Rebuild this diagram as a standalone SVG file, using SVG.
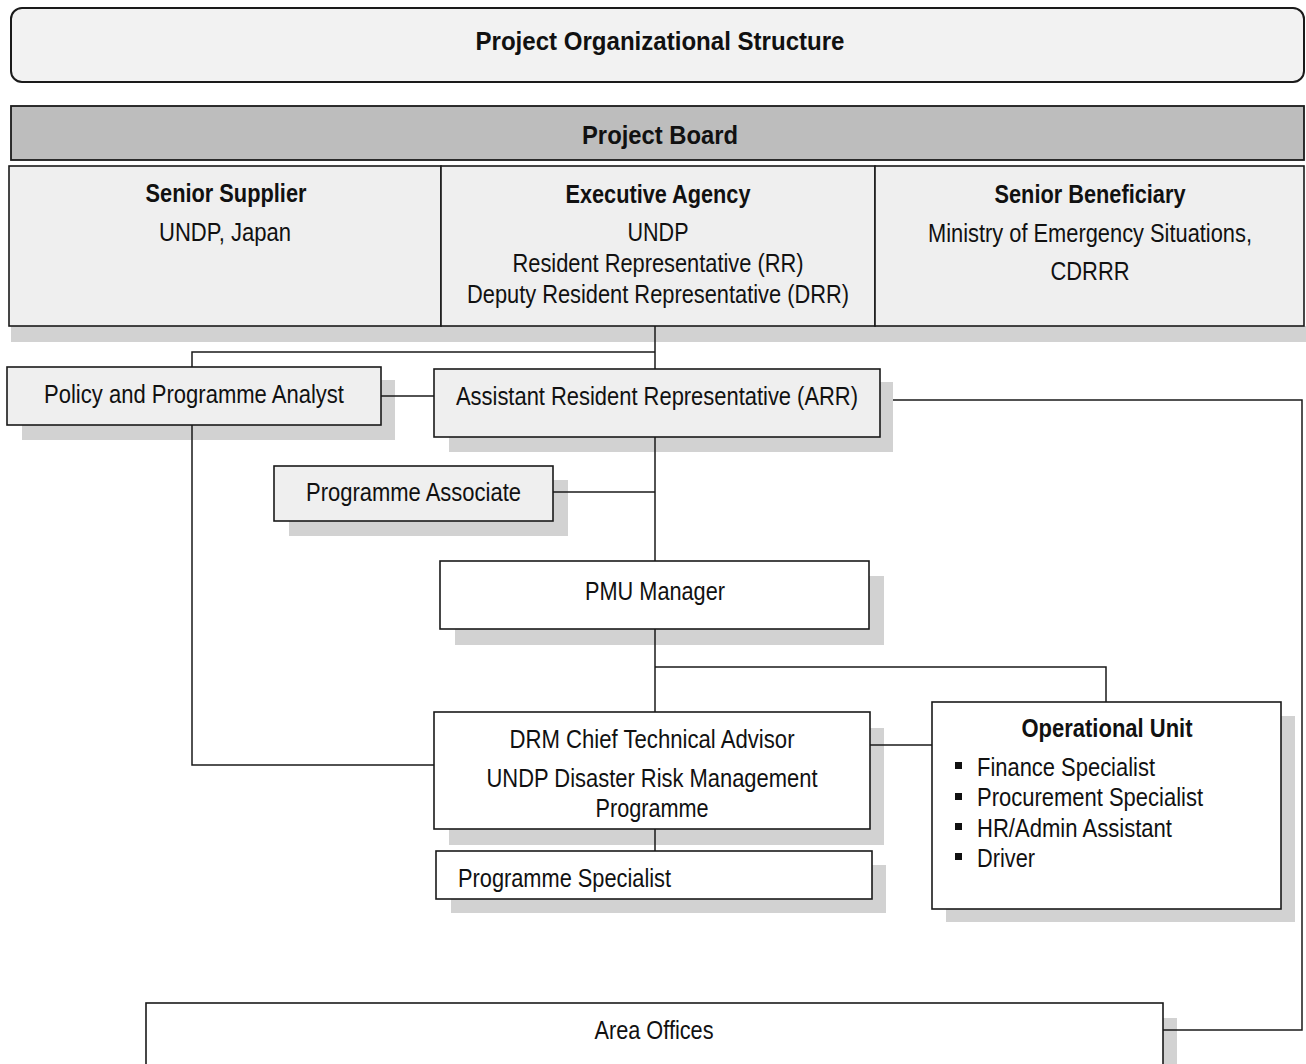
<svg xmlns="http://www.w3.org/2000/svg" width="1306" height="1064" viewBox="0 0 1306 1064">
<style>
.t{font-family:"Liberation Sans",Arial,sans-serif;font-size:25px;fill:#111;}
.b{font-weight:bold;}
.box{fill:#efefef;stroke:#1a1a1a;stroke-width:1.6;}
.wbox{fill:#ffffff;stroke:#1a1a1a;stroke-width:1.6;}
.sh{fill:#d2d2d2;}
.ln{fill:none;stroke:#1a1a1a;stroke-width:1.5;}
</style>
<rect width="1306" height="1064" fill="#ffffff"/>
<g id="shadows">
<rect class="sh" x="11" y="326" width="1295" height="16"/>
<rect class="sh" x="22" y="380" width="373" height="60"/>
<rect class="sh" x="449" y="382" width="444" height="70"/>
<rect class="sh" x="289" y="480" width="279" height="56"/>
<rect class="sh" x="455" y="576" width="429" height="69"/>
<rect class="sh" x="449" y="728" width="435" height="117"/>
<rect class="sh" x="451" y="865" width="435" height="48"/>
<rect class="sh" x="946" y="716" width="349" height="206"/>
<rect class="sh" x="160" y="1018" width="1017" height="46"/>
</g>
<g id="connectors">
<path class="ln" d="M655 326 V712"/>
<path class="ln" d="M655 352 H192 V765 H434"/>
<path class="ln" d="M381 396 H434"/>
<path class="ln" d="M893 400 H1302 V1030 H1163"/>
<path class="ln" d="M553 492 H655"/>
<path class="ln" d="M655 667 H1106 V702"/>
<path class="ln" d="M870 745 H932"/>
<path class="ln" d="M655 829 V851"/>
</g>
<g id="title">
<rect x="11" y="8" width="1293" height="74" rx="11" fill="#f2f2f2" stroke="#1a1a1a" stroke-width="2"/>
<text class="t b" x="660" y="50" text-anchor="middle" font-size="27" textLength="369" lengthAdjust="spacingAndGlyphs">Project Organizational Structure</text>
</g>
<g id="project-board">
<rect x="11" y="106" width="1293" height="54" fill="#bdbdbd" stroke="#1a1a1a" stroke-width="1.8"/>
<text class="t b" x="660" y="144" text-anchor="middle" font-size="27" textLength="156" lengthAdjust="spacingAndGlyphs">Project Board</text>
</g>
<g id="senior-supplier">
<rect class="box" x="9" y="166" width="432" height="160"/>
<text class="t b" x="226" y="202" text-anchor="middle" textLength="161" lengthAdjust="spacingAndGlyphs">Senior Supplier</text>
<text class="t" x="225" y="241" text-anchor="middle" textLength="132" lengthAdjust="spacingAndGlyphs">UNDP, Japan</text>
</g>
<g id="executive-agency">
<rect class="box" x="441" y="166" width="434" height="160"/>
<text class="t b" x="658" y="203" text-anchor="middle" textLength="185" lengthAdjust="spacingAndGlyphs">Executive Agency</text>
<text class="t" x="658" y="241" text-anchor="middle" textLength="61" lengthAdjust="spacingAndGlyphs">UNDP</text>
<text class="t" x="658" y="272" text-anchor="middle" textLength="291" lengthAdjust="spacingAndGlyphs">Resident Representative (RR)</text>
<text class="t" x="658" y="303" text-anchor="middle" textLength="382" lengthAdjust="spacingAndGlyphs">Deputy Resident Representative (DRR)</text>
</g>
<g id="senior-beneficiary">
<rect class="box" x="875" y="166" width="429" height="160"/>
<text class="t b" x="1090" y="203" text-anchor="middle" textLength="191" lengthAdjust="spacingAndGlyphs">Senior Beneficiary</text>
<text class="t" x="1090" y="242" text-anchor="middle" textLength="324" lengthAdjust="spacingAndGlyphs">Ministry of Emergency Situations,</text>
<text class="t" x="1090" y="280" text-anchor="middle" textLength="79" lengthAdjust="spacingAndGlyphs">CDRRR</text>
</g>
<g id="policy-analyst">
<rect class="box" x="7" y="367" width="374" height="58"/>
<text class="t" x="194" y="403" text-anchor="middle" textLength="300" lengthAdjust="spacingAndGlyphs">Policy and Programme Analyst</text>
</g>
<g id="arr">
<rect class="box" x="434" y="369" width="446" height="68"/>
<text class="t" x="456" y="405" textLength="402" lengthAdjust="spacingAndGlyphs">Assistant Resident Representative (ARR)</text>
</g>
<g id="programme-associate">
<rect class="box" x="274" y="466" width="279" height="55"/>
<text class="t" x="306" y="501" textLength="215" lengthAdjust="spacingAndGlyphs">Programme Associate</text>
</g>
<g id="pmu-manager">
<rect class="wbox" x="440" y="561" width="429" height="68"/>
<text class="t" x="655" y="600" text-anchor="middle" textLength="140" lengthAdjust="spacingAndGlyphs">PMU Manager</text>
</g>
<g id="drm-cta">
<rect class="wbox" x="434" y="712" width="436" height="117"/>
<text class="t" x="652" y="748" text-anchor="middle" textLength="285" lengthAdjust="spacingAndGlyphs">DRM Chief Technical Advisor</text>
<text class="t" x="652" y="787" text-anchor="middle" textLength="331" lengthAdjust="spacingAndGlyphs">UNDP Disaster Risk Management</text>
<text class="t" x="652" y="817" text-anchor="middle" textLength="113" lengthAdjust="spacingAndGlyphs">Programme</text>
</g>
<g id="programme-specialist">
<rect class="wbox" x="436" y="851" width="436" height="48"/>
<text class="t" x="458" y="887" textLength="213" lengthAdjust="spacingAndGlyphs">Programme Specialist</text>
</g>
<g id="operational-unit">
<rect class="wbox" x="932" y="702" width="349" height="207"/>
<text class="t b" x="1107" y="737" text-anchor="middle" textLength="171" lengthAdjust="spacingAndGlyphs">Operational Unit</text>
<rect x="955" y="762" width="7" height="7" fill="#111"/>
<rect x="955" y="793" width="7" height="7" fill="#111"/>
<rect x="955" y="823" width="7" height="7" fill="#111"/>
<rect x="955" y="853" width="7" height="7" fill="#111"/>
<text class="t" x="977" y="776" textLength="178" lengthAdjust="spacingAndGlyphs">Finance Specialist</text>
<text class="t" x="977" y="806" textLength="226" lengthAdjust="spacingAndGlyphs">Procurement Specialist</text>
<text class="t" x="977" y="837" textLength="195" lengthAdjust="spacingAndGlyphs">HR/Admin Assistant</text>
<text class="t" x="977" y="867" textLength="58" lengthAdjust="spacingAndGlyphs">Driver</text>
</g>
<g id="area-offices">
<rect class="wbox" x="146" y="1003" width="1017" height="66"/>
<text class="t" x="654" y="1039" text-anchor="middle" textLength="119" lengthAdjust="spacingAndGlyphs">Area Offices</text>
</g>
</svg>
